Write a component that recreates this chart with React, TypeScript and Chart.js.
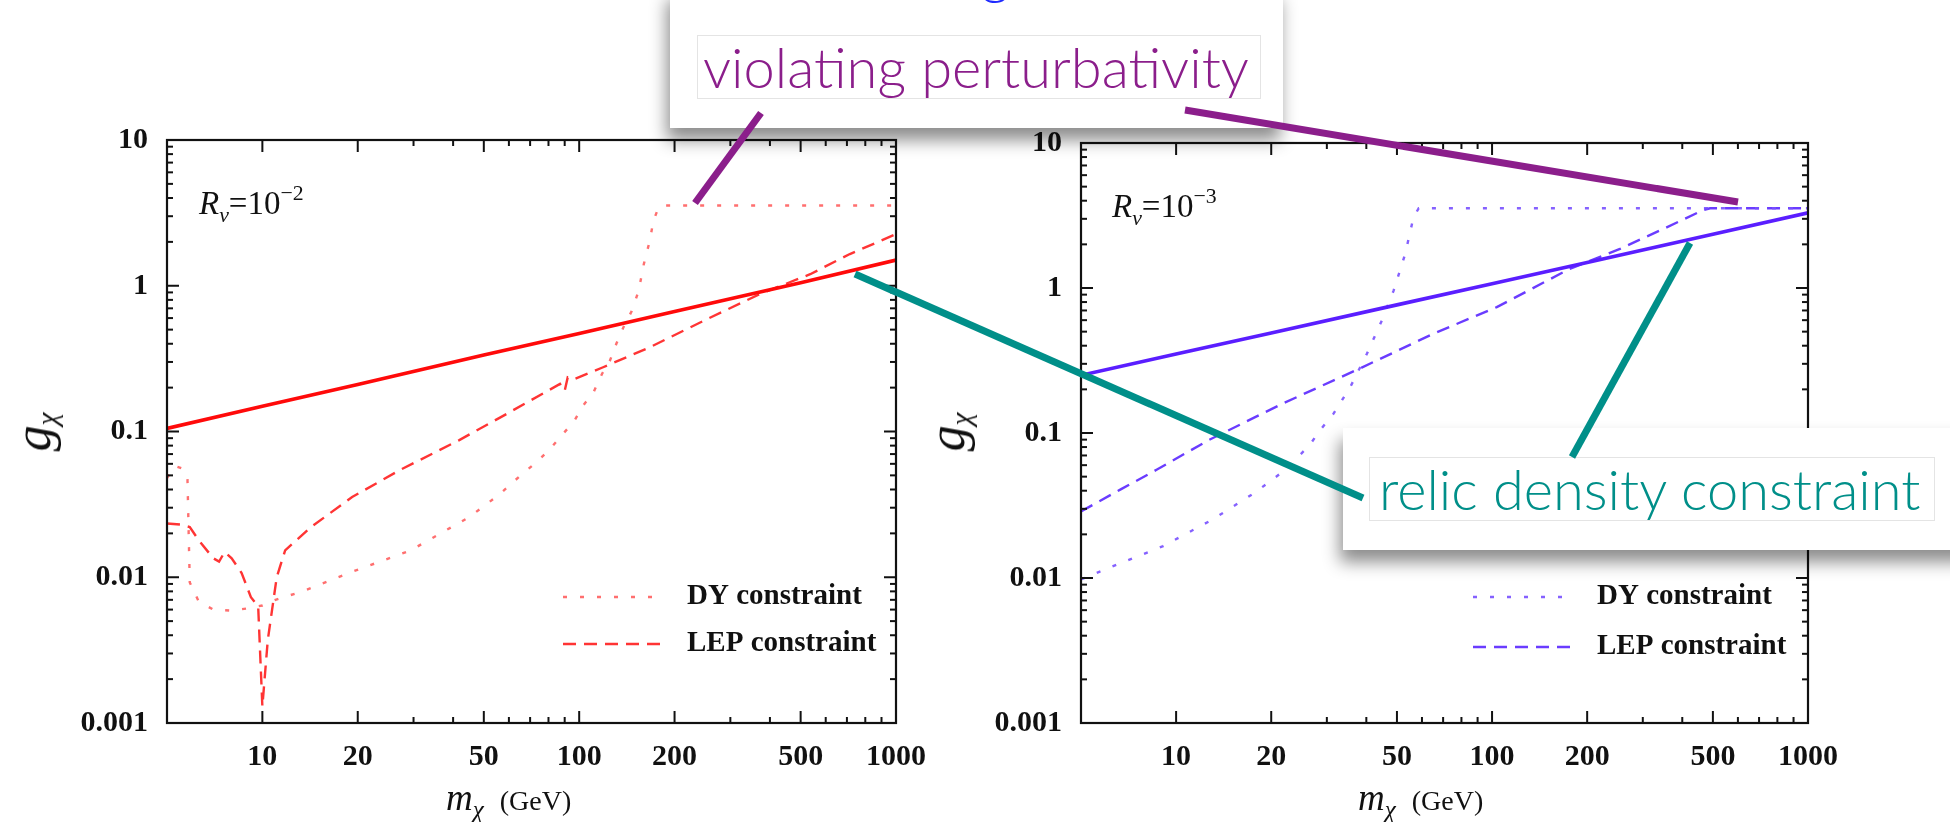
import React, { useEffect, useRef } from 'react';
import { Chart, registerables } from 'chart.js';

Chart.register(...registerables);

// ---------------- data ----------------
const massMin = 5;
const massMax = 1000;
const couplingMin = 0.001;
const couplingMax = 10;

const xTickValues = [10, 20, 50, 100, 200, 500, 1000];
const xTickLabels = ['10', '20', '50', '100', '200', '500', '1000'];
const xMinorTicks = [30, 40, 60, 70, 80, 90, 300, 400, 600, 700, 800, 900];
const yTickValues = [0.001, 0.01, 0.1, 1, 10];
const yTickLabels = ['0.001', '0.01', '0.1', '1', '10'];
const yMinorTicks = [
  0.002, 0.003, 0.004, 0.005, 0.006, 0.007, 0.008, 0.009,
  0.02, 0.03, 0.04, 0.05, 0.06, 0.07, 0.08, 0.09,
  0.2, 0.3, 0.4, 0.5, 0.6, 0.7, 0.8, 0.9,
  2, 3, 4, 5, 6, 7, 8, 9,
];

const legendLabels = ['DY constraint', 'LEP constraint'];

// Left panel: R_nu = 10^-2
const relicLeftMass = [5, 10, 20, 50, 100, 200, 500, 1000];
const relicLeftCoupling = [0.105, 0.149, 0.21, 0.335, 0.47, 0.665, 1.05, 1.5];

const dyLeftMass = [5.0, 5.3, 5.55, 5.8, 5.9, 6.3, 7.0, 8.0, 8.9, 10.0, 11.0, 13.6, 19.2, 29.4, 45, 56, 66, 73.4, 81, 88, 96, 103, 111, 118, 125, 131, 138, 146.5, 154, 160, 167, 171.5, 178, 183, 1000];
const dyLeftCoupling = [0.048, 0.058, 0.056, 0.049, 0.0092, 0.0068, 0.006, 0.0059, 0.0061, 0.0064, 0.007, 0.0081, 0.0109, 0.0153, 0.0259, 0.037, 0.051, 0.0616, 0.076, 0.094, 0.116, 0.151, 0.186, 0.248, 0.306, 0.4, 0.52, 0.67, 0.92, 1.41, 2.03, 2.79, 3.44, 3.55, 3.55];

const lepLeftMass = [5.0, 5.5, 5.9, 6.3, 7.0, 7.3, 7.6, 8.0, 8.6, 9.2, 9.7, 10.0, 10.4, 10.8, 11.1, 11.8, 14.2, 19.2, 27, 41.7, 59, 87, 90, 92, 96, 119, 167, 247, 372, 536, 715, 1000];
const lepLeftCoupling = [0.0234, 0.023, 0.0221, 0.0179, 0.0135, 0.0128, 0.0149, 0.0135, 0.0107, 0.0073, 0.0063, 0.0013, 0.0037, 0.0066, 0.01, 0.0153, 0.022, 0.0355, 0.054, 0.087, 0.132, 0.212, 0.19, 0.235, 0.228, 0.276, 0.378, 0.575, 0.877, 1.2, 1.65, 2.26];

// Right panel: R_nu = 10^-3
const relicRightMass = [5, 10, 20, 50, 100, 200, 500, 1000];
const relicRightCoupling = [0.25, 0.35, 0.49, 0.765, 1.07, 1.5, 2.35, 3.3];

const dyRightMass = [5, 6.7, 9.1, 13, 17.7, 22, 26.4, 28.6, 31.5, 35.6, 40.2, 44.8, 48.8, 53.1, 56.4, 58.6, 1000];
const dyRightCoupling = [0.0098, 0.0127, 0.0166, 0.0252, 0.0386, 0.055, 0.082, 0.105, 0.136, 0.208, 0.353, 0.598, 0.96, 1.72, 3.07, 3.55, 3.55];

const lepRightMass = [5, 6.7, 8.7, 12.7, 21.8, 38.2, 65.2, 103.5, 176, 254, 357, 466, 490, 1000];
const lepRightCoupling = [0.0288, 0.041, 0.056, 0.0895, 0.16, 0.279, 0.484, 0.738, 1.355, 1.86, 2.62, 3.45, 3.55, 3.55];

// ---------------- helpers ----------------
const SERIF = '"Liberation Serif", "Times New Roman", serif';
const pts = (xs: number[], ys: number[]) => xs.map((x, i) => ({ x, y: ys[i] }));

const frameTicksPlugin = {
  id: 'frameTicks',
  afterDatasetsDraw(chart: any, _args: any, opts: any) {
    const { ctx, chartArea: a, scales } = chart;
    const xs = scales.x;
    const ys = scales.y;
    ctx.save();
    ctx.strokeStyle = '#111';
    ctx.lineWidth = 2.2;
    ctx.setLineDash([]);
    ctx.strokeRect(a.left, a.top, a.right - a.left, a.bottom - a.top);
    ctx.lineWidth = 2;
    const seg = (x1: number, y1: number, x2: number, y2: number) => {
      ctx.beginPath();
      ctx.moveTo(x1, y1);
      ctx.lineTo(x2, y2);
      ctx.stroke();
    };
    xTickValues.forEach((v) => {
      const p = xs.getPixelForValue(v);
      seg(p, a.bottom, p, a.bottom - 12);
      seg(p, a.top, p, a.top + 12);
    });
    xMinorTicks.forEach((v) => {
      const p = xs.getPixelForValue(v);
      seg(p, a.bottom, p, a.bottom - 6);
      seg(p, a.top, p, a.top + 6);
    });
    yTickValues.forEach((v) => {
      const p = ys.getPixelForValue(v);
      seg(a.left, p, a.left + 12, p);
      seg(a.right, p, a.right - 12, p);
    });
    yMinorTicks.forEach((v) => {
      const p = ys.getPixelForValue(v);
      seg(a.left, p, a.left + 6, p);
      seg(a.right, p, a.right - 6, p);
    });

    // legend inside the plot
    const lg = opts && opts.legend;
    if (lg) {
      lg.rows.forEach((r: any) => {
        const ds = chart.data.datasets[r.ds];
        ctx.save();
        ctx.strokeStyle = ds.borderColor;
        ctx.lineWidth = 2.6;
        ctx.setLineDash(ds.borderDash || []);
        seg(lg.x0, r.y, lg.x1, r.y);
        ctx.restore();
        ctx.fillStyle = '#111';
        ctx.font = `bold 29px ${SERIF}`;
        ctx.textBaseline = 'middle';
        ctx.textAlign = 'left';
        ctx.fillText(ds.label, lg.textX, r.y);
      });
    }
    ctx.restore();
  },
};

function makeConfig(p: any) {
  return {
    type: 'line',
    data: {
      datasets: [
        {
          label: 'relic density constraint',
          data: pts(p.relic[0], p.relic[1]),
          borderColor: p.colors[0],
          borderWidth: 3.6,
          pointRadius: 0,
          tension: 0,
        },
        {
          label: legendLabels[0],
          data: pts(p.dy[0], p.dy[1]),
          borderColor: p.colors[1],
          borderWidth: 2.4,
          borderDash: [4, 13],
          pointRadius: 0,
          tension: 0,
        },
        {
          label: legendLabels[1],
          data: pts(p.lep[0], p.lep[1]),
          borderColor: p.colors[2],
          borderWidth: 2.4,
          borderDash: [13, 8],
          pointRadius: 0,
          tension: 0,
        },
      ],
    },
    options: {
      responsive: false,
      maintainAspectRatio: false,
      animation: false,
      events: [],
      layout: { padding: { top: p.padTop, right: p.padRight, left: 0, bottom: 0 } },
      plugins: {
        legend: { display: false },
        tooltip: { enabled: false },
        frameTicks: { legend: p.legend },
      },
      scales: {
        x: {
          type: 'logarithmic',
          min: massMin,
          max: massMax,
          grid: { display: false },
          border: { display: false },
          afterBuildTicks: (s: any) => {
            s.ticks = xTickValues.map((v) => ({ value: v }));
          },
          afterFit: (s: any) => {
            s.height = p.xHeight;
          },
          ticks: {
            autoSkip: false,
            maxRotation: 0,
            minRotation: 0,
            padding: 8,
            color: '#111',
            font: { family: SERIF, size: 30, weight: 'bold' },
            callback: (_v: any, i: number) => xTickLabels[i],
          },
        },
        y: {
          type: 'logarithmic',
          min: couplingMin,
          max: couplingMax,
          grid: { display: false },
          border: { display: false },
          afterBuildTicks: (s: any) => {
            s.ticks = yTickValues.map((v) => ({ value: v }));
          },
          afterFit: (s: any) => {
            s.width = p.yWidth;
          },
          ticks: {
            autoSkip: false,
            padding: 11,
            color: '#111',
            font: { family: SERIF, size: 30, weight: 'bold' },
            callback: (_v: any, i: number) => yTickLabels[i],
          },
        },
      },
    },
    plugins: [frameTicksPlugin],
  };
}

function ChartCanvas({ left, config }: { left: number; config: any }) {
  const ref = useRef<HTMLCanvasElement>(null);
  useEffect(() => {
    if (!ref.current) return;
    const chart = new Chart(ref.current, config as any);
    return () => chart.destroy();
  }, []);
  return (
    <canvas
      ref={ref}
      width={975}
      height={822}
      style={{ position: 'absolute', left, top: 0, width: 975, height: 822 }}
    />
  );
}

const leftConfig = makeConfig({
  relic: [relicLeftMass, relicLeftCoupling],
  dy: [dyLeftMass, dyLeftCoupling],
  lep: [lepLeftMass, lepLeftCoupling],
  colors: ['#ff0a0a', 'rgba(255,95,95,0.9)', '#ff3434'],
  padTop: 140,
  padRight: 975 - 896,
  yWidth: 167,
  xHeight: 822 - 723,
  legend: { x0: 563, x1: 660, textX: 687, rows: [{ ds: 1, y: 597 }, { ds: 2, y: 644 }] },
});

const rightConfig = makeConfig({
  relic: [relicRightMass, relicRightCoupling],
  dy: [dyRightMass, dyRightCoupling],
  lep: [lepRightMass, lepRightCoupling],
  colors: ['#5a1eff', 'rgba(120,80,255,0.9)', '#6a3cff'],
  padTop: 143,
  padRight: 975 - 833,
  yWidth: 1081 - 975,
  xHeight: 822 - 723,
  legend: { x0: 498, x1: 595, textX: 622, rows: [{ ds: 1, y: 597 }, { ds: 2, y: 647 }] },
});

const abs = (o: any) => ({ position: 'absolute' as const, whiteSpace: 'nowrap' as const, ...o });

function RLabel({ left, top, exp }: { left: number; top: number; exp: string }) {
  return (
    <div style={abs({ left, top, fontFamily: SERIF, fontSize: 33, lineHeight: 1, color: '#111' })}>
      <i>R</i>
      <i style={{ position: 'relative', top: 8, fontSize: '0.66em' }}>ν</i>
      =10
      <span style={{ position: 'relative', top: -14, fontSize: '0.66em' }}>−{exp}</span>
    </div>
  );
}

function YTitle({ cx }: { cx: number }) {
  return (
    <div
      style={abs({
        left: cx,
        top: 432,
        transform: 'translate(-50%, -50%) rotate(-90deg)',
        fontFamily: SERIF,
        fontStyle: 'italic',
        fontSize: 52,
        lineHeight: 1,
        color: '#111',
      })}
    >
      g<span style={{ position: 'relative', top: 7, fontSize: '0.56em' }}>χ</span>
    </div>
  );
}

function XTitle({ left }: { left: number }) {
  return (
    <div style={abs({ left, top: 779, fontFamily: SERIF, fontSize: 37, lineHeight: 1, color: '#111' })}>
      <i>m</i>
      <i style={{ position: 'relative', top: 8, fontSize: 25 }}>χ</i>
      <span style={{ fontSize: 28, marginLeft: 16 }}>(GeV)</span>
    </div>
  );
}

const CALLOUT_FONT = 'Lato, "Open Sans", "Noto Sans", sans-serif';

export default function App() {
  return (
    <div
      style={{
        position: 'fixed',
        left: 0,
        top: 0,
        width: 1950,
        height: 822,
        background: '#ffffff',
        overflow: 'hidden',
      }}
    >
      <ChartCanvas left={0} config={leftConfig} />
      <ChartCanvas left={975} config={rightConfig} />

      <RLabel left={199} top={187} exp="2" />
      <RLabel left={1112} top={190} exp="3" />
      <YTitle cx={33} />
      <YTitle cx={947} />
      <XTitle left={446} />
      <XTitle left={1358} />

      {/* callout: violating perturbativity */}
      <div
        style={abs({
          left: 670,
          top: -12,
          width: 613,
          height: 140,
          background: '#fff',
          boxShadow: '-3px 12px 16px rgba(0,0,0,0.45)',
        })}
      />
      <div
        style={abs({
          left: 697,
          top: 35,
          width: 557,
          height: 62,
          border: '1px solid #e4e4e4',
          fontFamily: CALLOUT_FONT,
          fontWeight: 300,
          fontSize: 56,
          lineHeight: '62px',
          color: '#8b1e8b',
          paddingLeft: 5,
          boxSizing: 'content-box',
        })}
      >
        violating perturbativity
      </div>
      <div
        style={abs({
          left: 981,
          top: -56,
          fontFamily: CALLOUT_FONT,
          fontWeight: 300,
          fontSize: 56,
          lineHeight: 1,
          color: '#1f2bff',
        })}
      >
        g
      </div>

      {/* callout: relic density constraint */}
      <div
        style={abs({
          left: 1343,
          top: 428,
          width: 640,
          height: 122,
          background: '#fff',
          boxShadow: '-3px 12px 16px rgba(0,0,0,0.45)',
        })}
      />
      <div
        style={abs({
          left: 1369,
          top: 457,
          width: 555,
          height: 62,
          border: '1px solid #e4e4e4',
          fontFamily: CALLOUT_FONT,
          fontWeight: 300,
          fontSize: 56,
          lineHeight: '62px',
          color: '#008f89',
          paddingLeft: 9,
          boxSizing: 'content-box',
        })}
      >
        relic density constraint
      </div>

      <svg
        width={1950}
        height={822}
        style={{ position: 'absolute', left: 0, top: 0, pointerEvents: 'none' }}
      >
        <line x1={761} y1={113} x2={695} y2={203} stroke="#8b1e8b" strokeWidth={7} />
        <line x1={1185} y1={110} x2={1738} y2={202} stroke="#8b1e8b" strokeWidth={7} />
        <line x1={855} y1={274} x2={1363} y2={498} stroke="#008f89" strokeWidth={7} />
        <line x1={1572} y1={457} x2={1690} y2={243} stroke="#008f89" strokeWidth={7} />
      </svg>
    </div>
  );
}
